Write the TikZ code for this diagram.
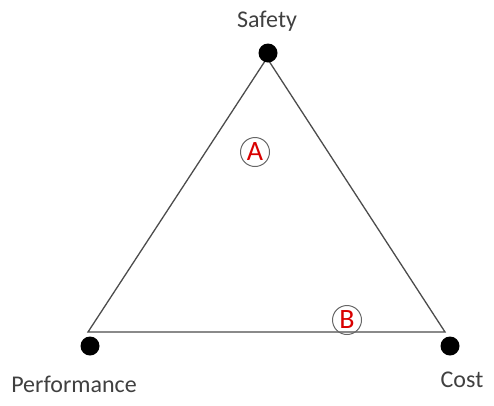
\documentclass[tikz,border=0pt]{standalone}
\usepackage{fontspec}
\setmainfont{Carlito}
\usetikzlibrary{positioning}
\begin{document}
\begin{tikzpicture}[x=1pt, y=-1pt, node distance=12pt, auto]
        \tikzstyle{vertex}=[circle, fill=black, inner sep=0pt, minimum size=19pt];
        \tikzstyle{caption}=[inner sep=0pt, text=black!75, font=\fontsize{24}{28}\selectfont];
        \tikzstyle{marker}=[circle, draw=black!60, line width=1pt, inner sep=0pt, minimum size=29pt, text=red!85!black, font=\fontsize{28}{30}\selectfont];

        \useasboundingbox (0,0) rectangle (494,405);

        % corners of the triangle
        \coordinate (apex) at (267,58);
        \coordinate (west) at (88,332);
        \coordinate (east) at (445,332);
        \draw[black!70, line width=1.3pt] (west) -- (apex) -- (east) -- cycle;

        \node[vertex] (safety) at (268,53) {};
        \node[vertex] (performance) at (90,346) {};
        \node[vertex] (cost) at (450,346) {};

        \node[caption, above=of safety, xshift=-1pt] (safetylabel) {Safety};
        \node[caption, below=of performance, yshift=-8pt, xshift=-16pt] (performancelabel) {Performance};
        \node[caption, below=of cost, yshift=-4pt, xshift=12pt] (costlabel) {Cost};

        \node[marker] (pointA) at (255,152) {A};
        \node[marker] (pointB) at (347,320) {B};
    \end{tikzpicture}
\end{document}
